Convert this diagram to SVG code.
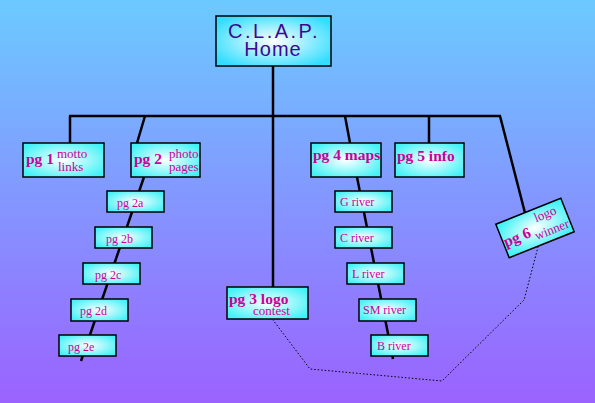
<svg xmlns="http://www.w3.org/2000/svg" width="595" height="403" viewBox="0 0 595 403">
<defs>
<linearGradient id="bg" x1="0" y1="0" x2="0" y2="1">
<stop offset="0" stop-color="#6ccaff"/>
<stop offset="1" stop-color="#9b62ff"/>
</linearGradient>
<radialGradient id="cy" cx="0.5" cy="0.5" r="0.6">
<stop offset="0" stop-color="#ffffff"/>
<stop offset="1" stop-color="#44f2f6"/>
</radialGradient>
<radialGradient id="cyh" cx="0.5" cy="0.5" r="0.6">
<stop offset="0" stop-color="#ffffff"/>
<stop offset="1" stop-color="#33ddff"/>
</radialGradient>
</defs>
<style>
.box{fill:url(#cy);stroke:#000;stroke-width:1.5}
.ln{stroke:#000;stroke-width:2.5;fill:none}
.dot{stroke:#000;stroke-width:1;fill:none;stroke-dasharray:1.5 2}
.big{font-family:"Liberation Serif","DejaVu Serif",serif;font-weight:bold;font-size:15.5px;fill:#cc0099}
.sm{font-family:"Liberation Serif","DejaVu Serif",serif;font-size:13px;fill:#cc0099}
.sub{font-family:"Liberation Serif","DejaVu Serif",serif;font-size:12px;fill:#cc0099}
.home{font-family:"Liberation Sans",Arial,sans-serif;font-size:20px;fill:#3c0a8c;text-anchor:middle}
</style>
<rect x="0" y="0" width="595" height="403" fill="url(#bg)"/>
<g id="connectors">
<line class="ln" x1="273" y1="66" x2="273" y2="287"/>
<line class="ln" x1="69" y1="116" x2="501" y2="116"/>
<line class="ln" x1="70" y1="116" x2="70" y2="143"/>
<line class="ln" x1="145" y1="116" x2="137" y2="143"/>
<line class="ln" x1="345" y1="116" x2="350" y2="143"/>
<line class="ln" x1="429" y1="116" x2="429" y2="143"/>
<line class="ln" x1="500" y1="116" x2="525" y2="213"/>
<line class="ln" x1="144" y1="177" x2="81" y2="361"/>
<line class="ln" x1="357" y1="177" x2="393" y2="359"/>
<polyline class="dot" points="539,243 532,270 524,300 442,381 310,369 273,320"/>
</g>
<g id="home">
<rect x="216" y="16" width="115" height="50" fill="url(#cyh)" stroke="#000" stroke-width="1.5"/>
<text class="home" x="274" y="38" letter-spacing="2.5">C.L.A.P.</text>
<text class="home" x="273" y="56" letter-spacing="1">Home</text>
</g>
<g id="pg1">
<rect class="box" x="23" y="143" width="81" height="34"/>
<text class="big" x="26" y="164" font-size="14.5px">pg 1</text>
<text class="sm" x="57" y="158">motto</text>
<text class="sm" x="58" y="171">links</text>
</g>
<g id="pg2">
<rect class="box" x="131" y="143" width="69" height="34"/>
<text class="big" x="134" y="164" font-size="14.5px">pg 2</text>
<text class="sm" x="169" y="158">photo</text>
<text class="sm" x="169" y="171">pages</text>
</g>
<g id="pg3">
<rect class="box" x="227" y="287" width="81" height="32"/>
<text class="big" x="229" y="304">pg 3 logo</text>
<text class="sm" x="253" y="315">contest</text>
</g>
<g id="pg4">
<rect class="box" x="311" y="143" width="70" height="34"/>
<text class="big" x="313" y="160">pg 4 maps</text>
</g>
<g id="pg5">
<rect class="box" x="395" y="143" width="69" height="34"/>
<text class="big" x="397" y="161">pg 5 info</text>
</g>
<g id="pg6" transform="translate(535,228) rotate(-21.8)">
<rect class="box" x="-35" y="-18" width="70" height="36"/>
<text class="big" x="-34" y="7" font-size="17px">pg 6</text>
<text class="sm" x="3" y="-5" font-size="12px">logo</text>
<text class="sm" x="-3" y="12" font-size="12px">winner</text>
</g>
<g id="pg2a"><rect class="box" x="107" y="191" width="57" height="21"/><text class="sub" x="117" y="207">pg 2a</text></g>
<g id="pg2b"><rect class="box" x="95" y="227" width="57" height="21"/><text class="sub" x="106" y="243">pg 2b</text></g>
<g id="pg2c"><rect class="box" x="83" y="263" width="57" height="21"/><text class="sub" x="95" y="279">pg 2c</text></g>
<g id="pg2d"><rect class="box" x="71" y="299" width="57" height="22"/><text class="sub" x="80" y="315">pg 2d</text></g>
<g id="pg2e"><rect class="box" x="59" y="335" width="57" height="21"/><text class="sub" x="68" y="351">pg 2e</text></g>
<g id="griver"><rect class="box" x="335" y="191" width="57" height="21"/><text class="sub" x="340" y="206">G river</text></g>
<g id="criver"><rect class="box" x="335" y="227" width="57" height="21"/><text class="sub" x="340" y="242">C river</text></g>
<g id="lriver"><rect class="box" x="347" y="263" width="57" height="21"/><text class="sub" x="352" y="278">L river</text></g>
<g id="smriver"><rect class="box" x="359" y="299" width="57" height="22"/><text class="sub" x="363" y="314">SM river</text></g>
<g id="briver"><rect class="box" x="371" y="335" width="57" height="21"/><text class="sub" x="377" y="350">B river</text></g>
</svg>
